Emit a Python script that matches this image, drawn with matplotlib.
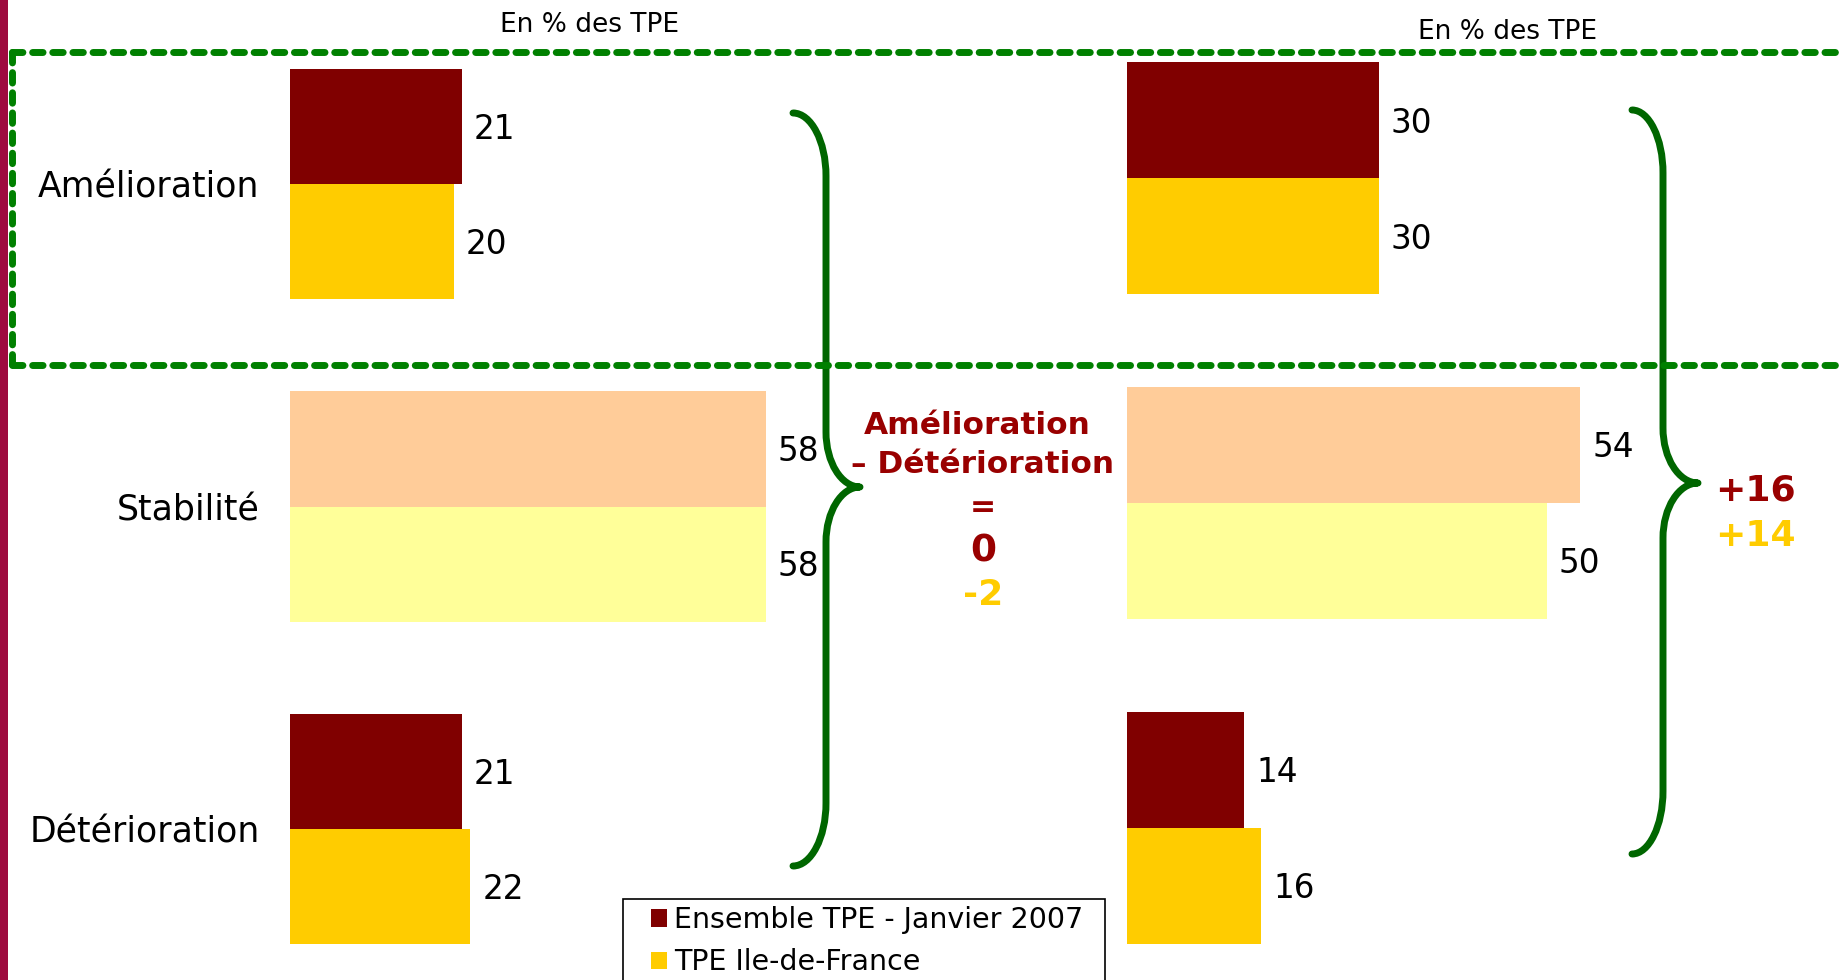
import matplotlib
matplotlib.use("Agg")
import matplotlib.pyplot as plt
from matplotlib.lines import Line2D
from matplotlib.patches import Rectangle, PathPatch
from matplotlib.path import Path

# donnees
categories = ["Amélioration", "Stabilité", "Détérioration"]
series = ["Ensemble TPE - Janvier 2007", "TPE Ile-de-France"]
gauche_ensemble = [21, 58, 21]
gauche_idf = [20, 58, 22]
droite_ensemble = [30, 54, 14]
droite_idf = [30, 50, 16]

couleurs_ensemble = ["#800000", "#FFCC99", "#800000"]
couleurs_idf = ["#FFCC00", "#FFFF99", "#FFCC00"]
rouge_txt = "#990000"
jaune_txt = "#FFCC00"
vert = "#008000"
vert_fonce = "#006600"

W, H = 1839, 980
plt.rcParams["font.family"] = ["DejaVu Sans"]
fig = plt.figure(figsize=(W / 100, H / 100), dpi=100)

BAR_H = 0.357


def panneau(x0, px_unite, y0, px_ligne, ens, idf, avec_labels):
    ax = fig.add_axes([x0 / W, 0, (W - x0) / W, 1])
    ax.patch.set_visible(False)
    ax.set_xlim(0, (W - x0) / px_unite)
    ax.set_ylim((H - y0) / px_ligne, -y0 / px_ligne)
    for s in ax.spines.values():
        s.set_visible(False)
    ax.set_xticks([])
    pos = list(range(len(categories)))
    b1 = ax.barh([p - BAR_H / 2 for p in pos], ens, height=BAR_H, color=couleurs_ensemble)
    b2 = ax.barh([p + BAR_H / 2 for p in pos], idf, height=BAR_H, color=couleurs_idf)
    for p, v in zip(pos, ens):
        ax.annotate(str(v), (v, p - BAR_H / 2), xytext=(8.6, -2), textcoords="offset points",
                    va="center", ha="left", fontsize=23.5)
    for p, v in zip(pos, idf):
        ax.annotate(str(v), (v, p + BAR_H / 2), xytext=(8.6, -2), textcoords="offset points",
                    va="center", ha="left", fontsize=23.5)
    if avec_labels:
        ax.set_yticks(pos, categories, fontsize=25)
        ax.tick_params(axis="y", length=0, pad=21.6)
    else:
        ax.set_yticks([])
    return ax, b1, b2


ax1, barres_ens, barres_idf = panneau(289.7, 8.21, 184.1, 322.5, gauche_ensemble, gauche_idf, True)
ax2, _, _ = panneau(1127, 8.39, 178.3, 324.9, droite_ensemble, droite_idf, False)


def fx(x):
    return x / W


def fy(y):
    return 1 - y / H


# bande a gauche
fig.add_artist(Rectangle((0, 0), fx(8), 1, transform=fig.transFigure, color="#9E0B3F", lw=0))

# cadre pointille vert
for xs, ys in [([12, W + 10], [52, 52]), ([12, W + 10], [365, 365]), ([12, 12], [52, 365])]:
    fig.add_artist(Line2D([fx(x) for x in xs], [fy(y) for y in ys], color=vert, lw=5,
                          linestyle=(0, (1.5, 1.4)), dash_capstyle="round",
                          transform=fig.transFigure))

fig.text(fx(590), fy(25), "En % des TPE", ha="center", va="center", fontsize=19)
fig.text(fx(1508), fy(32), "En % des TPE", ha="center", va="center", fontsize=19)


def accolade(x_bout, x_ligne, x_pointe, y_haut, y_mil, y_bas):
    k = 0.55
    h1, h2 = 63, 55
    pts = [
        (x_bout, y_haut),
        (x_bout + k * (x_ligne - x_bout), y_haut), (x_ligne, y_haut + (1 - k) * h1), (x_ligne, y_haut + h1),
        (x_ligne, y_mil - h2),
        (x_ligne, y_mil - (1 - k) * h2), (x_pointe - k * (x_pointe - x_ligne), y_mil), (x_pointe, y_mil),
        (x_pointe - k * (x_pointe - x_ligne), y_mil), (x_ligne, y_mil + (1 - k) * h2), (x_ligne, y_mil + h2),
        (x_ligne, y_bas - h1),
        (x_ligne, y_bas - (1 - k) * h1), (x_bout + k * (x_ligne - x_bout), y_bas), (x_bout, y_bas),
    ]
    codes = [Path.MOVETO, Path.CURVE4, Path.CURVE4, Path.CURVE4, Path.LINETO,
             Path.CURVE4, Path.CURVE4, Path.CURVE4, Path.CURVE4, Path.CURVE4, Path.CURVE4,
             Path.LINETO, Path.CURVE4, Path.CURVE4, Path.CURVE4]
    p = Path([(fx(x), fy(y)) for x, y in pts], codes)
    fig.add_artist(PathPatch(p, fill=False, edgecolor=vert_fonce, lw=5, capstyle="round",
                             joinstyle="round", transform=fig.transFigure))


accolade(793, 826, 860, 113, 487, 866)
accolade(1632, 1663, 1698, 110, 483, 854)

# solde amelioration - deterioration
solde_g_ens = gauche_ensemble[0] - gauche_ensemble[2]
solde_g_idf = gauche_idf[0] - gauche_idf[2]
solde_d_ens = droite_ensemble[0] - droite_ensemble[2]
solde_d_idf = droite_idf[0] - droite_idf[2]


def signe(v):
    return f"{v:+d}" if v != 0 else "0"


fig.text(fx(977), fy(426), "Amélioration", ha="center", va="center", fontsize=22.5,
         fontweight="bold", color=rouge_txt)
fig.text(fx(983), fy(464), "– Détérioration", ha="center", va="center", fontsize=22.5,
         fontweight="bold", color=rouge_txt)
fig.text(fx(983), fy(507), "=", ha="center", va="center", fontsize=22.5,
         fontweight="bold", color=rouge_txt)
fig.text(fx(983), fy(551), signe(solde_g_ens), ha="center", va="center", fontsize=27,
         fontweight="bold", color=rouge_txt)
fig.text(fx(983), fy(595), str(solde_g_idf), ha="center", va="center", fontsize=26,
         fontweight="bold", color=jaune_txt)

fig.text(fx(1715), fy(490), signe(solde_d_ens), ha="left", va="center", fontsize=26,
         fontweight="bold", color=rouge_txt)
fig.text(fx(1715), fy(536), signe(solde_d_idf), ha="left", va="center", fontsize=26,
         fontweight="bold", color=jaune_txt)

# legende
fig.add_artist(Rectangle((fx(623), fy(995)), fx(1105 - 623), (995 - 899) / H,
                         transform=fig.transFigure, facecolor="white", edgecolor="black", lw=1.2))
fig.legend([barres_ens, barres_idf], series, loc="upper left",
           bbox_to_anchor=(fx(651), fy(906)), frameon=False, fontsize=20.5,
           handlelength=0.56, handleheight=0.56, handletextpad=0.25,
           borderpad=0, borderaxespad=0, labelspacing=0.5)

fig.savefig("out.png", dpi=100)
